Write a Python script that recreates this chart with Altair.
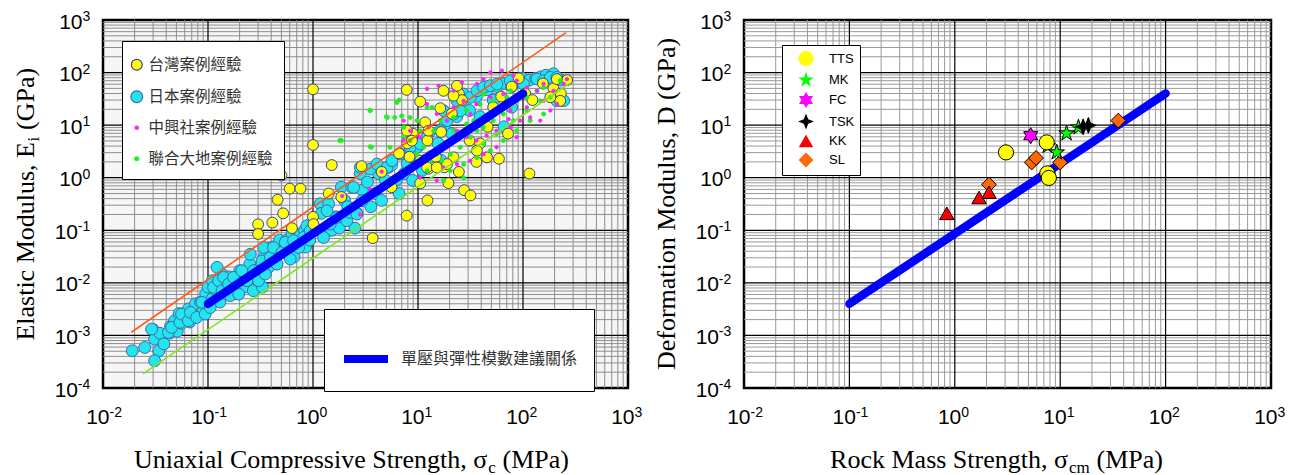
import altair as alt
import pandas as pd

# ---------------- LEFT PANEL DATA (σc in MPa, Ei in GPa) ----------------
# 台灣案例經驗 (yellow)
tw_x = [1.0, 1.0, 0.50, 0.60, 0.76, 0.46, 0.52, 0.41, 0.30, 0.30, 0.63, 1.0, 1.51, 2.9, 3.7,
        7.8, 7.8, 10.5, 16.3, 24.5, 27.5, 31.6, 24.5, 36, 59, 115, 19.5, 14.8, 12.3, 8.9,
        7.9, 6.6, 10.5, 16.6, 21, 26.3, 31, 39, 46, 52, 62, 78, 91, 105, 123, 155, 195,
        229, 263, 72, 4.5, 5.6, 12.3, 8.3, 1.86, 1.41, 12.6, 17.8, 1.01, 17.5, 45.4, 7.85,
        8.75, 11.7, 12.6, 21.8, 23.5, 210, 226, 182, 21.8, 36.4, 10.5, 12.2, 15.1, 18.9]
tw_y = [48, 4.2, 1.1, 0.62, 0.62, 0.38, 0.21, 0.14, 0.13, 0.085, 0.11, 0.18, 1.74, 1.66, 0.071,
        0.19, 47, 28, 21, 40, 0.58, 0.46, 1.29, 2.0, 2.3, 1.2, 0.79, 2.5, 5.1, 6.9,
        4.5, 2.9, 0.78, 7.4, 16.6, 30, 5.1, 4.5, 9.3, 22, 35, 54, 78, 40, 30, 62, 50,
        40, 72, 6.9, 1.29, 0.66, 0.37, 2.5, 0.43, 0.50, 1.48, 1.58, 0.131, 45, 2.44, 7.85,
        5.06, 11.3, 7.85, 36.3, 56, 75, 29, 34, 2.44, 3.27, 2.11, 1.57, 1.57, 1.82]

# 日本案例經驗 (cyan)
jp_x = [0.019, 0.025, 0.030, 0.031, 0.034, 0.035, 0.038, 0.043, 0.044, 0.048, 0.051, 0.053,
        0.056, 0.060, 0.065, 0.067, 0.070, 0.076, 0.079, 0.085, 0.089, 0.095, 0.10, 0.11,
        0.11, 0.12, 0.13, 0.13, 0.14, 0.15, 0.16, 0.16, 0.18, 0.19, 0.20, 0.22, 0.24, 0.25,
        0.27, 0.28, 0.30, 0.33, 0.34, 0.37, 0.38, 0.41, 0.45, 0.48, 0.52, 0.56, 0.63, 0.66,
        0.71, 0.76, 0.83, 0.85, 0.93, 1.05, 1.17, 1.2, 1.26, 1.41, 1.51, 1.66, 1.78, 1.86,
        2.0, 2.14, 2.34, 2.51, 2.63, 2.82, 2.95, 3.3, 3.55, 3.9, 4.2, 4.5, 4.9, 5.25, 5.6,
        6.2, 6.6, 7.4, 7.9, 8.7, 8.9, 10, 11, 11.7, 12.6, 13.2, 15.5, 16.6, 17.8, 21, 23.4,
        26.3, 31, 36, 39, 46, 52, 57, 66, 78, 87, 98, 115, 132, 148, 166, 195, 229, 78, 66,
        0.031,
        0.029, 0.042, 0.045, 0.054, 0.056, 0.065, 0.068, 0.078, 0.0875, 0.094, 0.105, 0.113,
        0.122, 0.126, 0.136, 0.141, 0.157, 0.163, 0.175, 0.196, 0.21, 0.235, 0.253, 0.272,
        0.303, 0.327, 0.339, 0.351, 0.392, 0.42, 0.454, 0.506, 0.545, 0.608, 0.653, 0.73,
        0.815, 0.875, 0.94, 1.26, 1.36, 1.46, 1.69, 2.1, 2.26, 2.44, 2.62, 2.93,
        2.82, 3.5, 4.06, 5.06, 5.65, 6.78, 8.4, 10.5, 12.2, 16.3, 18.9, 21.8, 23.5, 27.2,
        31.5, 36.4, 42.2, 48.8, 56.5, 75.7, 101, 136, 157, 182, 210, 210, 244, 17.5, 25.3]
jp_y = [0.00051, 0.00059, 0.0013, 0.00085, 0.00051, 0.0011, 0.00069, 0.0011, 0.0015, 0.0019,
        0.0012, 0.0026, 0.0017, 0.0022, 0.0032, 0.0018, 0.0026, 0.0040, 0.0024, 0.0043, 0.0028,
        0.0062, 0.0083, 0.0050, 0.011, 0.0071, 0.0043, 0.0095, 0.014, 0.0062, 0.0083, 0.013,
        0.0062, 0.010, 0.017, 0.0083, 0.012, 0.023, 0.0071, 0.017, 0.011, 0.0083, 0.031, 0.045,
        0.020, 0.048, 0.023, 0.065, 0.042, 0.065, 0.085, 0.031, 0.055, 0.085, 0.10, 0.048,
        0.065, 0.10, 0.32, 0.21, 0.085, 0.32, 0.10, 0.18, 0.11, 0.66, 0.37, 0.28, 0.66, 0.11,
        0.21, 1.2, 0.58, 0.83, 0.28, 0.50, 1.2, 0.37, 0.89, 1.58, 1.74, 0.89, 0.50, 1.2, 1.86,
        2.5, 0.89, 3.9, 1.38, 2.14, 6.9, 2.5, 4.5, 2.14, 9.3, 6.9, 14.5, 22, 19, 35, 14.5, 47,
        30, 54, 62, 54, 72, 78, 72, 78, 83, 89, 95, 72, 22, 9.3, 0.00033,
        0.00132, 0.00114, 0.00142, 0.00177, 0.00255, 0.0019, 0.00274, 0.0022, 0.00426, 0.00255,
        0.0034, 0.0082, 0.0197, 0.011, 0.0071, 0.0127, 0.0095, 0.0057, 0.0127, 0.0061, 0.017,
        0.011, 0.035, 0.017, 0.011, 0.026, 0.047, 0.0147, 0.0305, 0.047, 0.0228, 0.038, 0.059,
        0.0284, 0.0634, 0.047, 0.073, 0.122, 0.098, 0.073, 0.235, 0.131, 0.176, 0.152, 0.219,
        0.655, 0.204, 0.366,
        1.57, 1.46, 1.82, 1.57, 2.11, 2.82, 3.78, 4.37, 5.86, 7.85, 12.2, 16.3, 29.2, 39,
        33.7, 45.2, 52.3, 56.3, 60.5, 70.1, 60.5, 75.4, 70, 81, 81, 29.2, 29.2, 18.8, 18.8]

# 中興社案例經驗 (magenta)
st_x = [12.2, 15.7, 21.8, 26.2, 36.4, 42, 49, 63, 81, 87, 109, 136, 157, 182, 210, 244, 146,
        117, 94, 76, 56, 45, 36, 29, 23.5, 18.9, 15.1, 12.6, 10.5, 8.4, 7.3, 21.8, 27.2, 36,
        49, 65, 87, 109, 157, 195, 262, 56, 76, 42, 31.5, 12.2, 56, 42, 31.5, 23.5, 17.5,
        15.1, 12.2, 10.5, 7.3, 87, 73, 4.5, 1.9, 2.8, 3.5]
st_y = [49, 56, 45, 65, 61, 75, 101, 109, 87, 70, 52, 45, 29, 19, 25, 61, 12.2,
        14, 12.2, 9.1, 7.8, 6.3, 5.1, 5.9, 7.8, 12.2, 16.3, 9.1, 5.9, 7.8, 12.2, 21.8, 29, 25,
        34, 39, 29, 21.8, 61, 45, 75, 19, 19, 14, 16.3, 25, 3.8, 2.8, 2.1, 1.8, 1.57,
        0.88, 2.8, 1.0, 5.1, 5.9, 13, 1.3, 0.45, 0.2, 0.6]

# 聯合大地案例經驗 (green)
ug_x = [3.5, 5.1, 6.3, 7.0, 5.4, 7.3, 8.4, 12.2, 13.6, 9.8, 7.3, 11.3, 13.1, 10.5, 16.9, 20.3,
        25.3, 31.5, 36.4, 42, 52, 65, 76, 87, 109, 136, 157, 226, 29, 23.5, 18.9, 15.1, 12.2,
        20.3, 27.2, 36.4, 49, 65, 87, 117, 157, 210, 16.3, 21.8, 29, 39, 52, 70, 1.8, 3.6,
        27.2, 17.5, 42, 56, 81, 109, 146, 182, 10.5, 8.4, 9.8, 14.1, 21.8, 34, 49, 76, 42,
        3.5, 3.5, 1.86, 5.0, 6.6, 6.0]
ug_y = [19, 14, 27, 15, 3.8, 9.1, 14, 21.8, 21.8, 12.2, 5.9, 3.8, 2.1, 1.8, 2.1, 2.8,
        3.8, 5.9, 7.8, 9.1, 12.2, 16.3, 21.8, 29, 34, 45, 52, 70, 10.5, 6.8, 4.4, 2.8, 1.36,
        1.36, 1.8, 2.4, 3.3, 5.1, 7.8, 12.2, 16.3, 25, 12.2, 14, 19, 25, 29, 34, 5.1, 3.8,
        1.0, 0.88, 4.4, 6.8, 12.2, 19, 29, 34, 7.8, 5.1, 2.8, 7.8, 7.8, 12.2, 16.3, 45, 39,
        19, 3.9, 5.1, 14.5, 30, 14]

# suggested relation and envelope lines
rec_x = [0.1, 100]
rec_y = [0.004, 40]
up_x = [0.0186, 257]
up_y = [0.00115, 575]
lo_x = [0.024, 277]
lo_y = [0.000186, 62]

# ---------------- RIGHT PANEL DATA (σcm in MPa, D in GPa) ----------------
tts_x = [3.06, 7.45, 7.55, 7.8]
tts_y = [3.03, 4.7, 1.21, 0.99]
mk_x = [7.6, 9.27, 11.5, 14.9]
mk_y = [4.0, 3.03, 6.97, 9.06]
fc_x = [5.25]
fc_y = [6.3]
tsk_x = [16.5, 18.5]
tsk_y = [9.3, 9.9]
kk_x = [0.84, 1.70, 2.11]
kk_y = [0.21, 0.42, 0.53]
sl_x = [2.11, 5.37, 5.9, 10.0, 35.6]
sl_y = [0.74, 1.95, 2.37, 1.95, 12.2]

# tick labels
x_dec = [0.01, 0.1, 1, 10, 100, 1000]
x_exp = ['-2', '-1', '0', '1', '2', '3']
y_dec = [0.0001, 0.001, 0.01, 0.1, 1, 10, 100, 1000]
y_exp = ['-4', '-3', '-2', '-1', '0', '1', '2', '3']

# ---------------- helpers ----------------
H = 368
W1 = 525
W2 = 527
GAP = 119.6          # distance between the two plot frames
SANS = 'Liberation Sans'
SERIF = 'Liberation Serif'
CJK = 'Noto Sans CJK TC'

xs = alt.Scale(type='log', domain=[0.01, 1000])
ys = alt.Scale(type='log', domain=[0.0001, 1000])

minor_x = [k * 10.0 ** d for d in range(-2, 3) for k in range(2, 10)]
minor_y = [k * 10.0 ** d for d in range(-4, 3) for k in range(2, 10)]
major_x = x_dec[1:-1]
major_y = y_dec[1:-1]


def frame_layers(minor_col):
    lay = []
    lay.append(alt.Chart(pd.DataFrame({'v': minor_x})).mark_rule(color=minor_col, strokeWidth=1)
               .encode(x=alt.X('v:Q', scale=xs, axis=None)))
    lay.append(alt.Chart(pd.DataFrame({'v': minor_y})).mark_rule(color=minor_col, strokeWidth=1)
               .encode(y=alt.Y('v:Q', scale=ys, axis=None)))
    lay.append(alt.Chart(pd.DataFrame({'v': major_x})).mark_rule(color='black', strokeWidth=1.2)
               .encode(x=alt.X('v:Q', scale=xs, axis=None)))
    lay.append(alt.Chart(pd.DataFrame({'v': major_y})).mark_rule(color='black', strokeWidth=1.2)
               .encode(y=alt.Y('v:Q', scale=ys, axis=None)))
    return lay


def label_layers():
    dfx = pd.DataFrame({'v': x_dec, 'e': x_exp})
    dfy = pd.DataFrame({'v': y_dec, 'e': y_exp})
    lay = []
    lay.append(alt.Chart(dfx).mark_text(align='right', baseline='alphabetic', font=SANS,
                                        fontSize=21, dx=6.5, color='black')
               .encode(x=alt.X('v:Q', scale=xs, axis=None), y=alt.value(H + 35.5),
                       text=alt.value('10')))
    lay.append(alt.Chart(dfx).mark_text(align='left', baseline='alphabetic', font=SANS,
                                        fontSize=14, dx=6.5, color='black')
               .encode(x=alt.X('v:Q', scale=xs, axis=None), y=alt.value(H + 28.5),
                       text='e:N'))
    lay.append(alt.Chart(dfy).mark_text(align='right', baseline='alphabetic', font=SANS,
                                        fontSize=14, dy=1, color='black')
               .encode(y=alt.Y('v:Q', scale=ys, axis=None), x=alt.value(-12.7),
                       text='e:N'))
    lay.append(alt.Chart(dfy).transform_filter('datum.v >= 1')
               .mark_text(align='right', baseline='alphabetic', font=SANS, fontSize=21,
                          dy=8.5, color='black')
               .encode(y=alt.Y('v:Q', scale=ys, axis=None), x=alt.value(-20.5),
                       text=alt.value('10')))
    lay.append(alt.Chart(dfy).transform_filter('datum.v < 1')
               .mark_text(align='right', baseline='alphabetic', font=SANS, fontSize=21,
                          dy=8.5, color='black')
               .encode(y=alt.Y('v:Q', scale=ys, axis=None), x=alt.value(-25),
                       text=alt.value('10')))
    return lay


def txt(t, x, y, size=26, align='left', angle=0, dy=0):
    kw = dict(align=align, baseline='alphabetic', font=SERIF, fontSize=size, color='black')
    if angle:
        kw['angle'] = angle
    if dy:
        kw['dy'] = dy
    return alt.Chart(pd.DataFrame({'t': [t]})).mark_text(**kw).encode(
        x=alt.value(x), y=alt.value(y), text='t:N')


def rec_line():
    return alt.Chart(pd.DataFrame({'x': rec_x, 'y': rec_y, 'l': ['單壓與彈性模數建議關係'] * 2})).mark_line(
        strokeWidth=8.5, strokeCap='round')


# ---------------- LEFT PANEL ----------------
src_names = ['台灣案例經驗', '日本案例經驗', '中興社案例經驗', '聯合大地案例經驗']
src_fill = ['#ffff00', '#22e5f0', '#ff22ff', '#22ee22']
src_stroke = ['#3b3f8f', '#3f6aa8', '#ff22ff', '#22ee22']
src_size = [118, 140, 11, 16]

rows = []
for nm, xx, yy in [(src_names[1], jp_x, jp_y), (src_names[0], tw_x, tw_y),
                   (src_names[3], ug_x, ug_y), (src_names[2], st_x, st_y)]:
    for a, b in zip(xx, yy):
        rows.append({'src': nm, 'x': a, 'y': b})
df_left = pd.DataFrame(rows)

leg1 = alt.Legend(title=' ', titleFontSize=5, titlePadding=0, orient='none', legendX=19,
                  legendY=21, fillColor='white', strokeColor='black', padding=11,
                  symbolOffset=-4, labelOffset=4, rowPadding=14, labelFont=CJK,
                  labelFontSize=15.5, labelColor='#333333', symbolStrokeWidth=1.2,
                  labelLimit=300)

pts_left = alt.Chart(df_left).mark_point(filled=True, opacity=1, strokeWidth=1).encode(
    x=alt.X('x:Q', scale=xs, axis=None),
    y=alt.Y('y:Q', scale=ys, axis=None),
    fill=alt.Fill('src:N', scale=alt.Scale(domain=src_names, range=src_fill), legend=leg1),
    stroke=alt.Stroke('src:N', scale=alt.Scale(domain=src_names, range=src_stroke), legend=leg1),
    size=alt.Size('src:N', scale=alt.Scale(type='ordinal', domain=src_names, range=src_size),
                  legend=leg1),
)

upper = alt.Chart(pd.DataFrame({'x': up_x, 'y': up_y})).mark_line(color='#ff5a1a', strokeWidth=1.6).encode(
    x=alt.X('x:Q', scale=xs, axis=None), y=alt.Y('y:Q', scale=ys, axis=None))
lower = alt.Chart(pd.DataFrame({'x': lo_x, 'y': lo_y})).mark_line(color='#7be81f', strokeWidth=1.6).encode(
    x=alt.X('x:Q', scale=xs, axis=None), y=alt.Y('y:Q', scale=ys, axis=None))

leg_rec = alt.Legend(title=' ', titleFontSize=8, titlePadding=0, orient='none', legendX=221,
                     legendY=289, fillColor='white', strokeColor='black', padding=16,
                     symbolType='stroke', symbolSize=1936, symbolStrokeWidth=8, labelOffset=9,
                     labelFont=CJK, labelFontSize=16, labelColor='#333333', labelLimit=400)

rec_left = rec_line().encode(
    x=alt.X('x:Q', scale=xs, axis=None), y=alt.Y('y:Q', scale=ys, axis=None),
    color=alt.Color('l:N', scale=alt.Scale(range=['#0000ff']), legend=leg_rec))

A1 = 122.0
left_titles = [
    txt('Uniaxial Compressive Strength, σ', 384.3, H + 80, align='right'),
    txt('c', 385.3, H + 80, size=17, dy=5),
    txt('(MPa)', 399.5, H + 80),
    txt('Elastic Modulus, E', -69, A1, align='right', angle=270),
    txt('i', -69, A1 - 0.5, size=17, angle=270, dy=5),
    txt('(GPa)', -69, A1 - 12, angle=270),
]

left = alt.layer(*frame_layers('#8e8e8e'), pts_left, upper, lower, rec_left,
                 *label_layers(), *left_titles).properties(
    width=W1, height=H,
    view=alt.ViewBackground(fill='#f5f5f5', stroke='black', strokeWidth=2.5)
).resolve_scale(color='independent', fill='independent', stroke='independent', size='independent')

# ---------------- RIGHT PANEL ----------------
ser_names = ['TTS', 'MK', 'FC', 'TSK', 'KK', 'SL']
ser_fill = ['#ffff00', '#00ff00', '#ff00ff', '#000000', '#ff0000', '#ff6a00']
ser_size = [230, 270, 260, 250, 210, 220]
star5 = ('M0,-1L0.225,-0.309L0.951,-0.309L0.363,0.118L0.588,0.809L0,0.382L-0.588,0.809'
         'L-0.363,0.118L-0.951,-0.309L-0.225,-0.309Z')
star6 = ('M0,-1L0.289,-0.5L0.866,-0.5L0.577,0L0.866,0.5L0.289,0.5L0,1L-0.289,0.5L-0.866,0.5'
         'L-0.577,0L-0.866,-0.5L-0.289,-0.5Z')
star4 = 'M0,-1L0.28,-0.28L1,0L0.28,0.28L0,1L-0.28,0.28L-1,0L-0.28,-0.28Z'
ser_shape = ['circle', star5, star6, star4, 'triangle-up', 'diamond']

rows = []
for nm, xx, yy in [('SL', sl_x, sl_y), ('KK', kk_x, kk_y), ('MK', mk_x, mk_y),
                   ('FC', fc_x, fc_y), ('TSK', tsk_x, tsk_y), ('TTS', tts_x, tts_y)]:
    for a, b in zip(xx, yy):
        rows.append({'s': nm, 'x': a, 'y': b})
df_right = pd.DataFrame(rows)

# legends of a concatenated chart are placed in the coordinates of the first panel
leg2 = alt.Legend(title=None, orient='none', legendX=W1 + GAP + 34.4, legendY=25,
                  fillColor='white', strokeColor='black', padding=5, symbolOffset=10,
                  labelOffset=14, rowPadding=0, symbolStrokeColor='black',
                  symbolStrokeWidth=1, labelFont=SANS, labelFontSize=13, labelColor='black')

pts_right = alt.Chart(df_right).mark_point(filled=True, opacity=1, stroke='black',
                                           strokeWidth=1).encode(
    x=alt.X('x:Q', scale=xs, axis=None),
    y=alt.Y('y:Q', scale=ys, axis=None),
    shape=alt.Shape('s:N', scale=alt.Scale(domain=ser_names, range=ser_shape), legend=leg2),
    fill=alt.Fill('s:N', scale=alt.Scale(domain=ser_names, range=ser_fill), legend=leg2),
    size=alt.Size('s:N', scale=alt.Scale(type='ordinal', domain=ser_names, range=ser_size),
                  legend=leg2),
)

rec_right = rec_line().encode(
    x=alt.X('x:Q', scale=xs, axis=None), y=alt.Y('y:Q', scale=ys, axis=None),
    color=alt.value('#0000ff'))

right_titles = [
    txt('Rock Mass Strength, σ', 324, H + 80, align='right'),
    txt('cm', 325, H + 80, size=17, dy=5),
    txt('(MPa)', 352.5, H + 80),
    txt('Deformation Modulus, D (GPa)', -69.3, 184, align='center', angle=270),
]

right = alt.layer(*frame_layers('#9a9a9a'), rec_right, pts_right,
                  *label_layers(), *right_titles).properties(
    width=W2, height=H,
    view=alt.ViewBackground(fill='white', stroke='black', strokeWidth=2.5)
)

chart = alt.hconcat(left, right, spacing=8).properties(
    padding={'left': 3, 'top': 0, 'right': 0, 'bottom': 0}
).configure_view(stroke='black', strokeWidth=2.5)

chart.save("out.html", embed_options={"renderer": "svg", "actions": False})
